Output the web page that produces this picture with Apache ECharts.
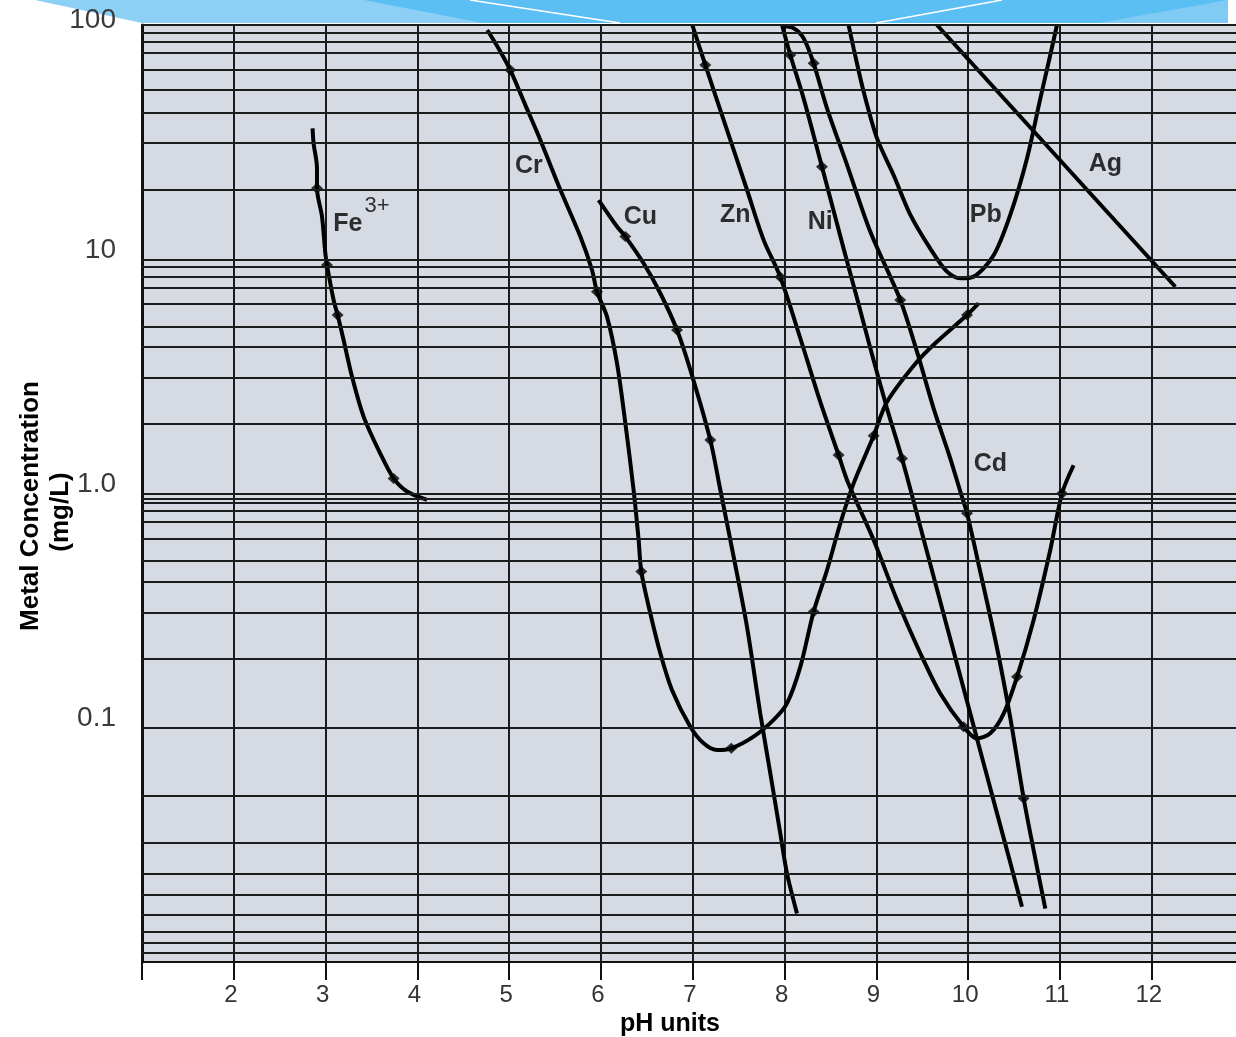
<!DOCTYPE html>
<html><head><meta charset="utf-8">
<script src="https://cdn.jsdelivr.net/npm/echarts@6/dist/echarts.min.js"></script>
<style>html,body{margin:0;padding:0;background:#fff}#c{width:1236px;height:1037px}</style>
</head><body><div id="c"></div>
<script>
// ---------- tick labels ----------
const xTickLabels = ['2','3','4','5','6','7','8','9','10','11','12'];
const yTickLabels = [[100,'100'],[10,'10'],[1,'1.0'],[0.1,'0.1']];

// horizontal grid lines of the printed graph paper (mg/L)
const gridValues = [100,93.1,84.9,76.2,64.2,52.8,42.2,31.3,19.8,
  10,9.31,8.44,7.54,6.44,5.15,4.23,3.13,1.98,
  1,0.947,0.911,0.842,0.756,0.639,0.515,0.419,0.310,0.197,
  0.1,0.0511,0.0322,0.0237,0.0193,0.01587,0.01343,0.01205,0.01092];

// ---------- curves [pH, mg/L] ----------
const feCurve = [[2.858,36.2],[2.869,31.3],[2.906,24.5],[2.906,20.1],[2.961,15.2],[2.997,10.6],[3.015,9.45],[3.087,6.70],[3.131,5.78],[3.196,4.52],[3.288,3.15],[3.414,2.13],[3.596,1.48],[3.741,1.16],[3.887,1.02],[4.105,0.94]];
const crCurve = [[4.761,95.2],[4.881,79.8],[5.012,64.2],[5.175,45.6],[5.339,32.3],[5.557,19.8],[5.775,12.5],[5.902,9.0],[5.956,7.27],[6.065,5.69],[6.174,3.60],[6.265,2.0],[6.355,1.035],[6.410,0.633],[6.439,0.464],[6.537,0.308],[6.646,0.208],[6.773,0.145],[6.973,0.101],[7.118,0.0858],[7.264,0.0803],[7.419,0.0817],[7.662,0.0916],[7.880,0.108],[8.026,0.127],[8.171,0.182],[8.316,0.313],[8.462,0.471],[8.607,0.746],[8.752,1.105],[8.970,1.765],[9.115,2.46],[9.442,3.65],[9.660,4.45],[9.987,5.78],[10.113,6.48]];
const cuCurve = [[5.974,17.9],[6.174,13.8],[6.265,12.5],[6.464,9.61],[6.646,7.16],[6.828,4.99],[6.973,3.37],[7.191,1.69],[7.300,1.035],[7.445,0.537],[7.590,0.270],[7.735,0.115],[7.844,0.064],[7.953,0.0354],[8.026,0.0239],[8.135,0.0161]];
const znCurve = [[6.995,100],[7.136,67.5],[7.373,35.6],[7.590,19.8],[7.771,12.1],[7.953,8.40],[8.171,4.60],[8.389,2.46],[8.588,1.46],[8.694,1.105],[8.970,0.633],[9.224,0.351],[9.478,0.208],[9.696,0.140],[9.950,0.101],[10.096,0.090],[10.241,0.0947],[10.386,0.115],[10.532,0.165],[10.712,0.288],[10.894,0.574],[11.022,1.0],[11.148,1.32]];
const niCurve = [[7.972,100],[8.062,74.5],[8.207,48.6],[8.407,24.8],[8.643,11.1],[8.789,6.81],[8.934,4.17],[9.115,2.31],[9.279,1.41],[9.551,0.564],[9.769,0.270],[9.950,0.147],[10.096,0.0898],[10.314,0.0431],[10.459,0.0265],[10.586,0.0172]];
const cdCurve = [[7.975,99],[8.098,96.8],[8.207,87.7],[8.316,68.6],[8.462,44.1],[8.680,25.3],[8.934,13.1],[9.260,6.70],[9.442,4.03],[9.623,2.31],[9.805,1.41],[9.914,1.02],[9.987,0.823],[10.132,0.462],[10.314,0.219],[10.459,0.110],[10.604,0.050],[10.712,0.0301],[10.840,0.0169]];
const pbCurve = [[8.697,100],[8.752,79.5],[8.861,51.9],[9.007,32.8],[9.187,22.9],[9.369,15.5],[9.587,11.1],[9.769,8.85],[9.914,8.29],[10.059,8.43],[10.277,10.4],[10.459,15.5],[10.641,27.0],[10.786,48.6],[10.894,74.5],[10.967,100]];
const agCurve = [[9.660,100],[12.256,7.63]];

// ---------- measured points (diamonds) ----------
const feMarks = [[2.906,20.1],[3.015,9.45],[3.131,5.78],[3.741,1.16]];
const crMarks = [[5.012,64.2],[5.956,7.27],[6.439,0.464],[7.419,0.0817],[8.316,0.313],[8.970,1.765],[9.987,5.78]];
const cuMarks = [[6.265,12.5],[6.828,4.99],[7.191,1.69]];
const znMarks = [[7.136,67.5],[7.953,8.40],[8.588,1.46],[9.950,0.101],[10.532,0.165],[11.022,1.0]];
const niMarks = [[8.062,74.5],[8.407,24.8],[9.279,1.41]];
const cdMarks = [[8.316,68.6],[9.260,6.70],[9.987,0.823],[10.604,0.050]];

// ---------- curve names and anchor points ----------
const curveLabels = [['Fe',3.242,14.1],['3+',3.560,16.9],['Cr',5.214,25.1],['Cu',6.428,15.1],['Zn',7.463,15.4],['Ni',8.389,14.4],['Pb',10.192,15.5],['Ag',11.494,25.5],['Cd',10.241,1.34]];

const FONT = "'Liberation Sans', Arial, sans-serif";
const chart = echarts.init(document.getElementById('c'), null, {renderer:'canvas'});

const curves = [['Fe',feCurve],['Cr',crCurve],['Cu',cuCurve],['Zn',znCurve],['Ni',niCurve],['Cd',cdCurve],['Pb',pbCurve],['Ag',agCurve]];
const marks = [feMarks,crMarks,cuMarks,znMarks,niMarks,cdMarks];

const series = [];
series.push({
  type:'line', name:'grid', data:[[1,0.01]], showSymbol:false, silent:true, z:1,
  lineStyle:{opacity:0},
  markLine:{silent:true, precision:8, symbol:['none','none'], label:{show:false}, animation:false,
    lineStyle:{type:'solid', color:'#1c1c1c', width:2},
    emphasis:{disabled:true},
    data: gridValues.map(v => ({yAxis:v}))}
});
curves.forEach(([n,d]) => series.push({
  type:'line', name:n, data:d, showSymbol:false, smooth:0.3, z:3,
  lineStyle:{color:'#000', width:4}, silent:true
}));
marks.forEach(m => series.push({
  type:'scatter', data:m, symbol:'diamond', symbolSize:[12,11], z:4,
  itemStyle:{color:'#000'}, silent:true
}));
series.push({
  type:'scatter', z:5, symbolSize:1, itemStyle:{color:'rgba(0,0,0,0)'}, silent:true,
  data: curveLabels.map(([t,x,y]) => ({name:t, value:[x,y],
    label: t==='3+' ? {fontWeight:'normal', fontSize:22} : {}})),
  label:{show:true, position:'inside', formatter:'{b}', color:'#000',
    fontFamily:FONT, fontSize:25, fontWeight:'bold'}
});

const staticGraphics = [
  {type:'polygon', z:-10, silent:true, shape:{points:[[35,0],[1228,0],[1228,23],[142,23]]}, style:{fill:'#8dd0f6'}},
  {type:'polygon', z:-10, silent:true, shape:{points:[[364,0],[1228,0],[1228,23],[482,23]]}, style:{fill:'#5cbff3'}},
  {type:'polygon', z:-10, silent:true, shape:{points:[[1099,23],[1228,0],[1228,23]]}, style:{fill:'#7fcbf4'}},
  {type:'line', z:-9, silent:true, shape:{x1:470,y1:0,x2:620,y2:23}, style:{stroke:'#ffffff', lineWidth:1.5}},
  {type:'line', z:-9, silent:true, shape:{x1:876,y1:23,x2:1002,y2:0}, style:{stroke:'#ffffff', lineWidth:1.5}},
  {type:'text', x:31, y:506, rotation:Math.PI/2, silent:true,
    style:{text:'Metal Concentration', fontSize:26, fontWeight:'bold', fontFamily:FONT, fill:'#000', align:'center', verticalAlign:'middle'}},
  {type:'text', x:61, y:512, rotation:Math.PI/2, silent:true,
    style:{text:'(mg/L)', fontSize:26, fontWeight:'bold', fontFamily:FONT, fill:'#000', align:'center', verticalAlign:'middle'}},
  {type:'text', x:670, y:1024, silent:true,
    style:{text:'pH units', fontSize:25, fontWeight:'bold', fontFamily:FONT, fill:'#000', align:'center', verticalAlign:'middle'}}
];

chart.setOption({
  animation:false,
  backgroundColor:'#fff',
  grid:{left:142, top:25, width:1101.6, height:937, show:true, backgroundColor:'#d6dbe3', borderWidth:0,
    containLabel:false, outerBoundsMode:'none'},
  xAxis:{type:'value', min:1, max:13, interval:1,
    axisLine:{show:true, onZero:false, lineStyle:{color:'#111', width:2}},
    axisTick:{show:true, length:18, lineStyle:{color:'#111', width:2}},
    axisLabel:{margin:21, fontSize:24, color:'#333', fontFamily:FONT, padding:[0,6,0,0],
      formatter: v => xTickLabels.includes(String(v)) ? String(v) : ''},
    splitLine:{show:true, lineStyle:{color:'#1c1c1c', width:2}}
  },
  yAxis:{type:'log', logBase:10, min:0.01, max:100,
    axisLine:{show:true, lineStyle:{color:'#111', width:3}},
    axisTick:{show:false},
    splitLine:{show:false},
    axisLabel:{show:false}
  },
  graphic: staticGraphics,
  series: series
});

// y tick labels, placed through the axis scale, sitting just above their lines
const yLabelGraphics = yTickLabels.map(([v,t]) => {
  const py = chart.convertToPixel({yAxisIndex:0}, v);
  return {type:'text', x:116, y:Math.max(py - 9, 20), silent:true,
    style:{text:t, fontSize:28, fontFamily:FONT, fill:'#3a3a3a', align:'right', verticalAlign:'middle'}};
});
chart.setOption({graphic: staticGraphics.concat(yLabelGraphics)});
</script></body></html>
